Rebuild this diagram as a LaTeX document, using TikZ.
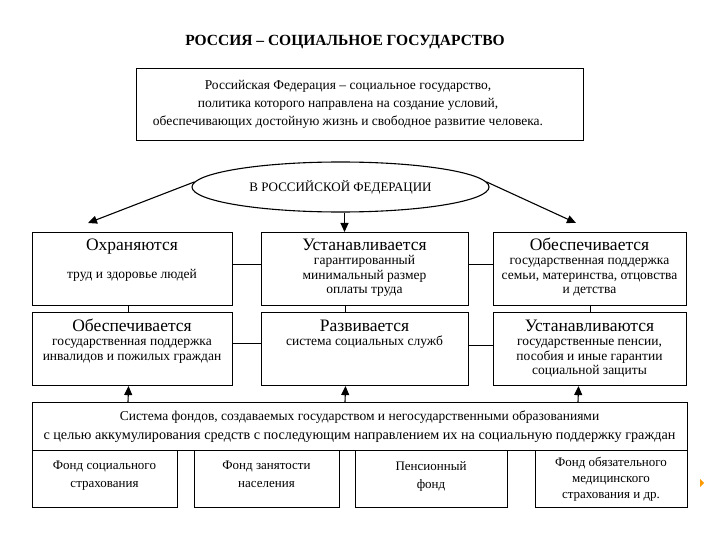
\documentclass[tikz,border=0pt]{standalone}
\usepackage{fontspec}
\setmainfont{Liberation Serif}
\usetikzlibrary{arrows.meta,shapes.geometric}
\newcommand{\topstrut}{\rule{0pt}{10pt}}
\tikzset{
  box/.style={draw=black,line width=1.1pt,inner sep=0pt,anchor=north west},
  head/.style={anchor=base,inner sep=0pt,text depth=0pt,font=\fontsize{17.5}{20}\selectfont},
  sub/.style={anchor=north,inner sep=0pt,align=center,font=\fontsize{13.5}{14.6}\selectfont},
  conn/.style={draw=black,line width=1.1pt},
  arr/.style={draw=black,line width=1.1pt,-{Triangle[length=9pt,width=8pt]}},
}
\begin{document}
\begin{tikzpicture}[x=1pt,y=-1pt]
\useasboundingbox (0,0) rectangle (720,540);
% title
\node[anchor=base,inner sep=0pt,font=\fontsize{15.5}{18}\selectfont\bfseries] (title) at (345,46) {РОССИЯ – СОЦИАЛЬНОЕ ГОСУДАРСТВО};
% top box
\node[box,minimum width=447pt,minimum height=72pt] (top) at (136,68) {};
\node[sub,font=\fontsize{13.5}{18}\selectfont] (toptxt) at (348,80) {Российская Федерация – социальное государство,\\политика которого направлена на создание условий,\\обеспечивающих достойную жизнь и свободное развитие человека.};
% ellipse
\node[ellipse,draw=black,line width=1.1pt,minimum width=297pt,minimum height=50pt,inner sep=0pt,font=\fontsize{13}{15}\selectfont] (ell) at (340.5,187) {В РОССИЙСКОЙ ФЕДЕРАЦИИ};
% row 1
\node[box,minimum width=200pt,minimum height=73pt] (r1L) at (32,232) {};
\node[box,minimum width=207pt,minimum height=73pt] (r1M) at (261,232) {};
\node[box,minimum width=193pt,minimum height=73pt] (r1R) at (493,232) {};
\node[head] (h1L) at (132,250) {Охраняются};
\node[head] (h1M) at (364.5,250) {Устанавливается};
\node[head] (h1R) at (589.5,250) {Обеспечивается};
\node[sub] (s1L) at (132,268.5) {\topstrut труд и здоровье людей};
\node[sub] (s1M) at (364.5,254.5) {\topstrut гарантированный\\минимальный размер\\оплаты труда};
\node[sub] (s1R) at (589.5,254.5) {\topstrut государственная поддержка\\семьи, материнства, отцовства\\и детства};
% row 2
\node[box,minimum width=200pt,minimum height=73pt] (r2L) at (32,312) {};
\node[box,minimum width=207pt,minimum height=73pt] (r2M) at (261,312) {};
\node[box,minimum width=193pt,minimum height=73pt] (r2R) at (493,312) {};
\node[head] (h2L) at (132,331) {Обеспечивается};
\node[head] (h2M) at (364.5,331) {Развивается};
\node[head] (h2R) at (589.5,331) {Устанавливаются};
\node[sub] (s2L) at (132,335.5) {\topstrut государственная поддержка\\инвалидов и пожилых граждан};
\node[sub] (s2M) at (364.5,335.5) {\topstrut система социальных служб};
\node[sub] (s2R) at (589.5,335.5) {\topstrut государственные пенсии,\\пособия и иные гарантии\\социальной защиты};
% big box
\node[box,minimum width=655pt,minimum height=48pt] (big) at (32,402) {};
\node[sub,font=\fontsize{13.5}{19}\selectfont] (bigtxt) at (359.5,411) {Система фондов, создаваемых государством и негосударственными образованиями\\{\fontsize{14.2}{19}\selectfont с целью аккумулирования средств с последующим направлением их на социальную поддержку граждан}};
% funds
\node[box,minimum width=145pt,minimum height=57pt] (f1) at (32,450) {};
\node[box,minimum width=145pt,minimum height=57pt] (f2) at (194,450) {};
\node[box,minimum width=152pt,minimum height=57pt] (f3) at (355,450) {};
\node[box,minimum width=152pt,minimum height=57pt] (f4) at (535,450) {};
\node[sub,font=\fontsize{13}{18}\selectfont] (t1) at (104.5,461) {Фонд социального\\страхования};
\node[sub,font=\fontsize{13}{18}\selectfont] (t2) at (266.5,461) {Фонд занятости\\населения};
\node[sub,font=\fontsize{13}{18}\selectfont] (t3) at (431,461) {Пенсионный\\фонд};
\node[sub,font=\fontsize{13}{16}\selectfont] (t4) at (611,457) {Фонд обязательного\\медицинского\\страхования и др.};
% arrows from ellipse
\coordinate (tipL) at (88,223);
\coordinate (tipR) at (576,223);
\draw[arr] (ell.178) -- (tipL);
\draw[arr] (ell.2) -- (tipR);
\draw[arr] ([xshift=4pt]ell.south) -- ([xshift=4pt]ell.south |- r1M.north);
% horizontal connectors
\draw[conn] ([yshift=5pt]r1L.east) -- ([yshift=5pt]r1M.west);
\draw[conn] ([yshift=5pt]r1M.east) -- ([yshift=5pt]r1R.west);
\draw[conn] ([yshift=6pt]r2L.east) -- ([yshift=6pt]r2M.west);
\draw[conn] ([yshift=4pt]r2M.east) -- ([yshift=4pt]r2R.west);
% vertical connectors
\draw[conn] ([xshift=-4pt]r1L.south) -- ([xshift=-4pt]r2L.north);
\draw[conn] ([xshift=-19.5pt]r1M.south) -- ([xshift=-19.5pt]r2M.north);
\draw[conn] (r1R.south) -- (r2R.north);
% arrows up from big box
\draw[arr] (big.north -| 128,0) -- ([xshift=-4pt]r2L.south);
\draw[arr] (big.north -| 345,0) -- ([xshift=-19.5pt]r2M.south);
\draw[arr] (big.north -| 578,0) -- ([xshift=-11.5pt]r2R.south);
% small slide mark
\fill[orange!80!yellow] (700,479) -- (704,483) -- (700,487) -- cycle;
\end{tikzpicture}
\end{document}
